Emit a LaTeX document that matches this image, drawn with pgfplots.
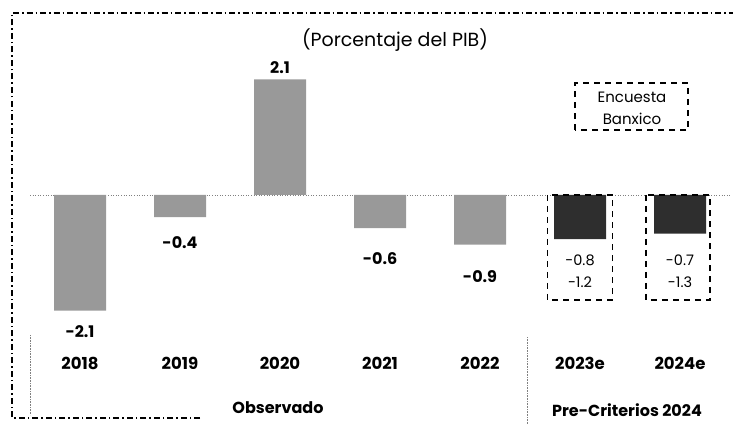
\documentclass[border=0pt]{standalone}
\usepackage{fontspec}
\setmainfont{Poppins}
\usepackage{pgfplots}
\pgfplotsset{compat=1.18}

\begin{document}
\begin{tikzpicture}
\useasboundingbox (0,0) rectangle (733pt,424pt);
% marco punto-raya
\draw[dash pattern=on 6pt off 3pt on 1.5pt off 3pt, line width=1.6pt] (200pt,6pt) -- (12pt,6pt) -- (12pt,411pt) -- (733pt,411pt);
% separadores
\draw[densely dotted, gray, line width=0.6pt] (527pt,87pt) -- (527pt,0pt);
\draw[densely dotted, gray, line width=0.6pt] (30pt,89pt) -- (30pt,9pt);

\begin{axis}[
  at={(30pt,84pt)}, anchor=south west,
  scale only axis, width=700pt, height=285pt,
  xmin=-0.5, xmax=6.5, ymin=-2.636, ymax=2.545,
  axis line style={draw=none},
  major tick length=0pt,
  ytick=\empty,
  xtick={0,1,2,3,4,5,6},
  xticklabels={2018,2019,2020,2021,2022,2023e,2024e},
  xticklabel style={font=\fontsize{16.5}{18}\selectfont\bfseries, yshift=-14pt},
  clip=false,
]
\draw[dotted, gray, line width=0.6pt] (axis cs:-0.5,0) -- (axis cs:6.5,0);

\addplot[ybar, bar width=0.52, bar shift=0pt, fill=black!40, draw=none]
  coordinates {(0,-2.1) (1,-0.4) (2,2.1) (3,-0.6) (4,-0.9)};
\addplot[ybar, bar width=0.52, bar shift=0pt, fill=black!82, draw=none]
  coordinates {(5,-0.8) (6,-0.7)};

% etiquetas de valores
\begin{scope}[every node/.style={font=\fontsize{16}{18}\selectfont\bfseries}]
\node at (axis cs:0,-2.49) {-2.1};
\node at (axis cs:1,-0.87) {-0.4};
\node at (axis cs:2,2.31) {2.1};
\node at (axis cs:3,-1.15) {-0.6};
\node at (axis cs:4,-1.49) {-0.9};
\end{scope}

% cajas de la encuesta
\draw[dash pattern=on 6pt off 5pt, line width=1.5pt] (axis cs:4.675,0) rectangle (axis cs:5.325,-1.91);
\draw[dash pattern=on 6pt off 5pt, line width=1.5pt] (axis cs:5.66,0) rectangle (axis cs:6.30,-1.91);
\begin{scope}[every node/.style={font=\fontsize{14.5}{16}\selectfont}]
\node at (axis cs:5,-1.18) {-0.8};
\node at (axis cs:5,-1.58) {-1.2};
\node at (axis cs:6,-1.18) {-0.7};
\node at (axis cs:6,-1.58) {-1.3};
\end{scope}
\end{axis}

% titulo
\node[font=\fontsize{19}{22}\selectfont] at (395pt,384pt) {(Porcentaje del PIB)};
% leyenda Encuesta Banxico
\draw[dash pattern=on 6pt off 5pt, line width=1.5pt] (575pt,294pt) rectangle (688pt,341pt);
\node[font=\fontsize{15}{16}\selectfont] at (632pt,327pt) {Encuesta};
\node[font=\fontsize{15}{16}\selectfont] at (632pt,305pt) {Banxico};
% grupos
\node[font=\fontsize{16}{18}\selectfont\bfseries] at (278pt,16pt) {Observado};
\node[font=\fontsize{16}{18}\selectfont\bfseries] at (627pt,14pt) {Pre-Criterios 2024};
\end{tikzpicture}
\end{document}
